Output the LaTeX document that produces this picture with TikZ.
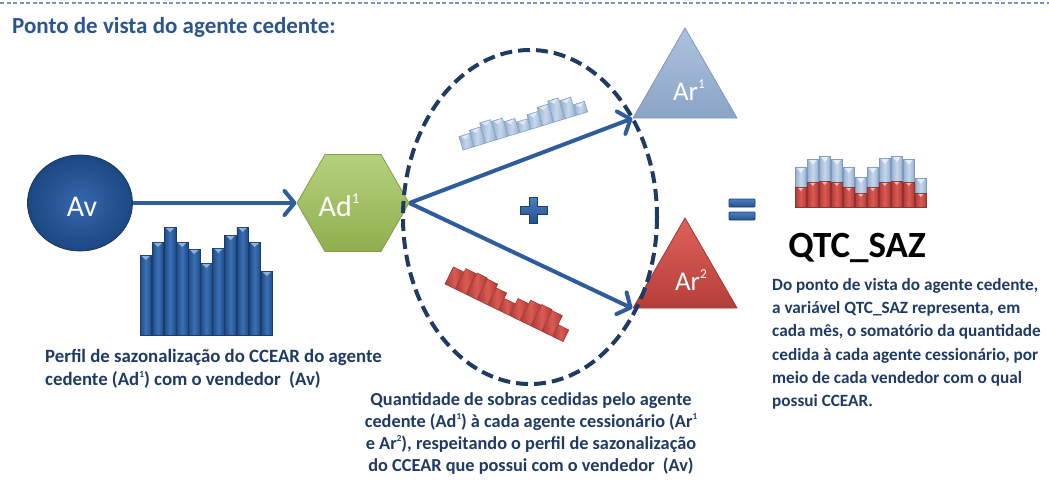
\documentclass[tikz,border=0pt]{standalone}
\usepackage{fontspec}
\setmainfont{Carlito}
\usetikzlibrary{shapes.geometric,arrows.meta}
\definecolor{arrowblue}{HTML}{2E5C9C}
\definecolor{dashnavy}{HTML}{1F3B63}
\definecolor{textnavy}{HTML}{1F3A64}
\definecolor{titleblue}{HTML}{2A5590}
\definecolor{topdash}{HTML}{7196C6}
\definecolor{avin}{HTML}{3568AD}
\definecolor{avout}{HTML}{1C4781}
\definecolor{hextop}{HTML}{B6D17E}
\definecolor{hexbot}{HTML}{90AE4E}
\definecolor{hexedge}{HTML}{819E45}
\definecolor{aronetop}{HTML}{ADC2DE}
\definecolor{aronebot}{HTML}{8AA4C6}
\definecolor{aroneedge}{HTML}{7C97BA}
\definecolor{artwotop}{HTML}{DD625B}
\definecolor{artwobot}{HTML}{B63E39}
\definecolor{artwoedge}{HTML}{9E3632}
\definecolor{bardark}{HTML}{1F4B86}
\definecolor{barmid}{HTML}{3B71B6}
\definecolor{baredge}{HTML}{183C6C}
\definecolor{lightdark}{HTML}{93AED0}
\definecolor{lightmid}{HTML}{C7D8EC}
\definecolor{lightedge}{HTML}{7D99BD}
\definecolor{reddark}{HTML}{B23A35}
\definecolor{redmid}{HTML}{DA5B54}
\definecolor{rededge}{HTML}{96302C}
\definecolor{signtop}{HTML}{4A7FC2}
\definecolor{signbot}{HTML}{23528F}
\definecolor{signedge}{HTML}{1B3F6F}
\tikzset{
  conn/.style={draw=arrowblue, line width=4pt, -{Straight Barb[length=10pt,width=24pt,round]}},
  ring/.style={draw=dashnavy, line width=4pt, dash pattern=on 12pt off 6pt},
  topline/.style={draw=topdash, line width=1.2pt, dash pattern=on 4pt off 2.5pt},
  avnode/.style={ellipse, minimum width=105pt, minimum height=96pt, inner sep=0pt, inner color=avin, outer color=avout, draw=avout!80!black, line width=0.8pt},
  hexnode/.style={regular polygon, regular polygon sides=6, minimum size=112pt, inner sep=0pt, top color=hextop, bottom color=hexbot, draw=hexedge, line width=0.8pt},
  trinode/.style={regular polygon, regular polygon sides=3, minimum size=120pt, inner sep=0pt, line width=0.8pt},
  shapetext/.style={text=white, font=\fontsize{30}{30}\selectfont, inner sep=0pt},
  bodytext/.style={text=textnavy, inner sep=0pt},
  bigbar/.style={left color=bardark, right color=bardark, middle color=barmid, draw=baredge, line width=0.6pt},
  bignotch/.style={fill=barmid!55!white},
  lightbar/.style={left color=lightdark, right color=lightdark, middle color=lightmid, draw=lightedge, line width=0.5pt},
  lightnotch/.style={fill=white, opacity=0.6},
  redbar/.style={left color=reddark, right color=reddark, middle color=redmid, draw=rededge, line width=0.5pt},
  signshape/.style={top color=signtop, bottom color=signbot, draw=signedge, line width=0.8pt},
}
\newcommand{\upidx}[1]{\raisebox{0.42em}{\fontsize{0.5em}{0.5em}\selectfont #1}}
\begin{document}
\begin{tikzpicture}[x=1pt,y=-1pt]
\useasboundingbox (0,0) rectangle (1049,490);
\fill[white] (0,0) rectangle (1049,490);
\draw[topline] (0,3) -- (1049,3);
\node[anchor=base west, text=titleblue, font=\bfseries\fontsize{23}{23}\selectfont, inner sep=0pt] (title) at (12,33) {Ponto de vista do agente cedente:};

% big bar chart under Av
\foreach \h [count=\i from 0] in {255,242,227,242,249,263,248,235,227,242,271}{
  \pgfmathsetmacro{\xa}{140+\i*12.1}
  \path[bigbar] (\xa,\h) rectangle ({\xa+11.6},335);
  \fill[bignotch] ({\xa+1.5},{\h+0.8}) -- ({\xa+10.1},{\h+0.8}) -- ({\xa+5.8},{\h+5}) -- cycle;
}

% shapes
\node[avnode] (av) at (80,203) {};
\node[shapetext, anchor=base] (avlbl) at (82,216) {Av};
\node[hexnode] (ad) at (353,203) {};
\node[shapetext, anchor=base] (adlbl) at (339,216) {Ad\upidx{1}};
\node[trinode, top color=aronetop, bottom color=aronebot, draw=aroneedge] (ar1) at (685,88) {};
\node[shapetext, anchor=base, font=\fontsize{27}{27}\selectfont] (ar1lbl) at (689,100) {Ar\upidx{1}};
\node[trinode, top color=artwotop, bottom color=artwobot, draw=artwoedge] (ar2) at (685,278) {};
\node[shapetext, anchor=base, font=\fontsize{27}{27}\selectfont] (ar2lbl) at (691,290) {Ar\upidx{2}};

% tilted charts
\begin{scope}[shift={(463,150)}, rotate=17]
\foreach \h [count=\i from 0] in {14,17,21,19,15,11,15,19,22,19,11}{
  \path[lightbar] ({\i*11.9},0) rectangle ({\i*11.9+11.3},{-\h});
  \fill[lightnotch] ({\i*11.9+1.5},{-\h+0.8}) -- ({\i*11.9+9.8},{-\h+0.8}) -- ({\i*11.9+5.65},{-\h+4.5}) -- cycle;
}
\end{scope}
\begin{scope}[shift={(445,284)}, rotate=-26]
\foreach \h [count=\i from 0] in {19,23,24,23,19,13,19,23,24,23,13}{
  \path[redbar] ({\i*12},0) rectangle ({\i*12+11.4},{-\h});
}
\end{scope}

% plus sign
\path[signshape] (529.5,197) -- (537.5,197) -- (537.5,206) -- (547,206) -- (547,214) -- (537.5,214) -- (537.5,223) -- (529.5,223) -- (529.5,214) -- (520,214) -- (520,206) -- (529.5,206) -- cycle;

% connectors
\draw[conn] (av) -- (ad);
\draw[conn] (ad.east) -- (ar1.210);
\draw[conn] (ad.east) -- (ar2.210);

% dashed ring
\draw[ring] (530,217) ellipse [x radius=127, y radius=167];

% equals sign
\path[signshape, rounded corners=1pt] (729,199) rectangle (755,207);
\path[signshape, rounded corners=1pt] (729,212) rectangle (755,220);

% stacked chart
\foreach \t/\r [count=\i from 0] in {167/187,159/182,156/181,159/182,167/187,177/193,167/187,158/182,156/181,159/182,178/193}{
  \pgfmathsetmacro{\xa}{795+\i*12}
  \path[lightbar] (\xa,\t) rectangle ({\xa+11.5},\r);
  \path[redbar] (\xa,\r) rectangle ({\xa+11.5},207);
  \fill[lightnotch] ({\xa+1.5},{\t+0.8}) -- ({\xa+10},{\t+0.8}) -- ({\xa+5.75},{\t+6}) -- cycle;
  \fill[lightnotch] ({\xa+3},{\r+0.8}) -- ({\xa+8.5},{\r+0.8}) -- ({\xa+5.75},{\r+4}) -- cycle;
}
\node[anchor=base, font=\bfseries\fontsize{37}{37}\selectfont, inner sep=0pt] (qtc) at (857,257) {QTC\_SAZ};

% texts
\node[bodytext, font=\bfseries\fontsize{18.8}{23}\selectfont, anchor=north west, align=left] (ltext) at (45,349) {Perfil de sazonalização do CCEAR do agente\\cedente (Ad\upidx{1}) com o vendedor~~(Av)};
\node[bodytext, font=\bfseries\fontsize{18.3}{22.3}\selectfont, anchor=north, align=center] (mtext) at (531,392) {Quantidade de sobras cedidas pelo agente\\cedente (Ad\upidx{1}) à cada agente cessionário (Ar\upidx{1}\\e Ar\upidx{2}), respeitando o perfil de sazonalização\\do CCEAR que possui com o vendedor~~(Av)};
\node[bodytext, font=\bfseries\fontsize{17.2}{23.3}\selectfont, anchor=north west, align=left] (rtext) at (772,278) {Do ponto de vista do agente cedente,\\a variável QTC\_SAZ representa, em\\cada mês, o somatório da quantidade\\cedida à cada agente cessionário, por\\meio de cada vendedor com o qual\\possui CCEAR.};
\end{tikzpicture}
\end{document}
